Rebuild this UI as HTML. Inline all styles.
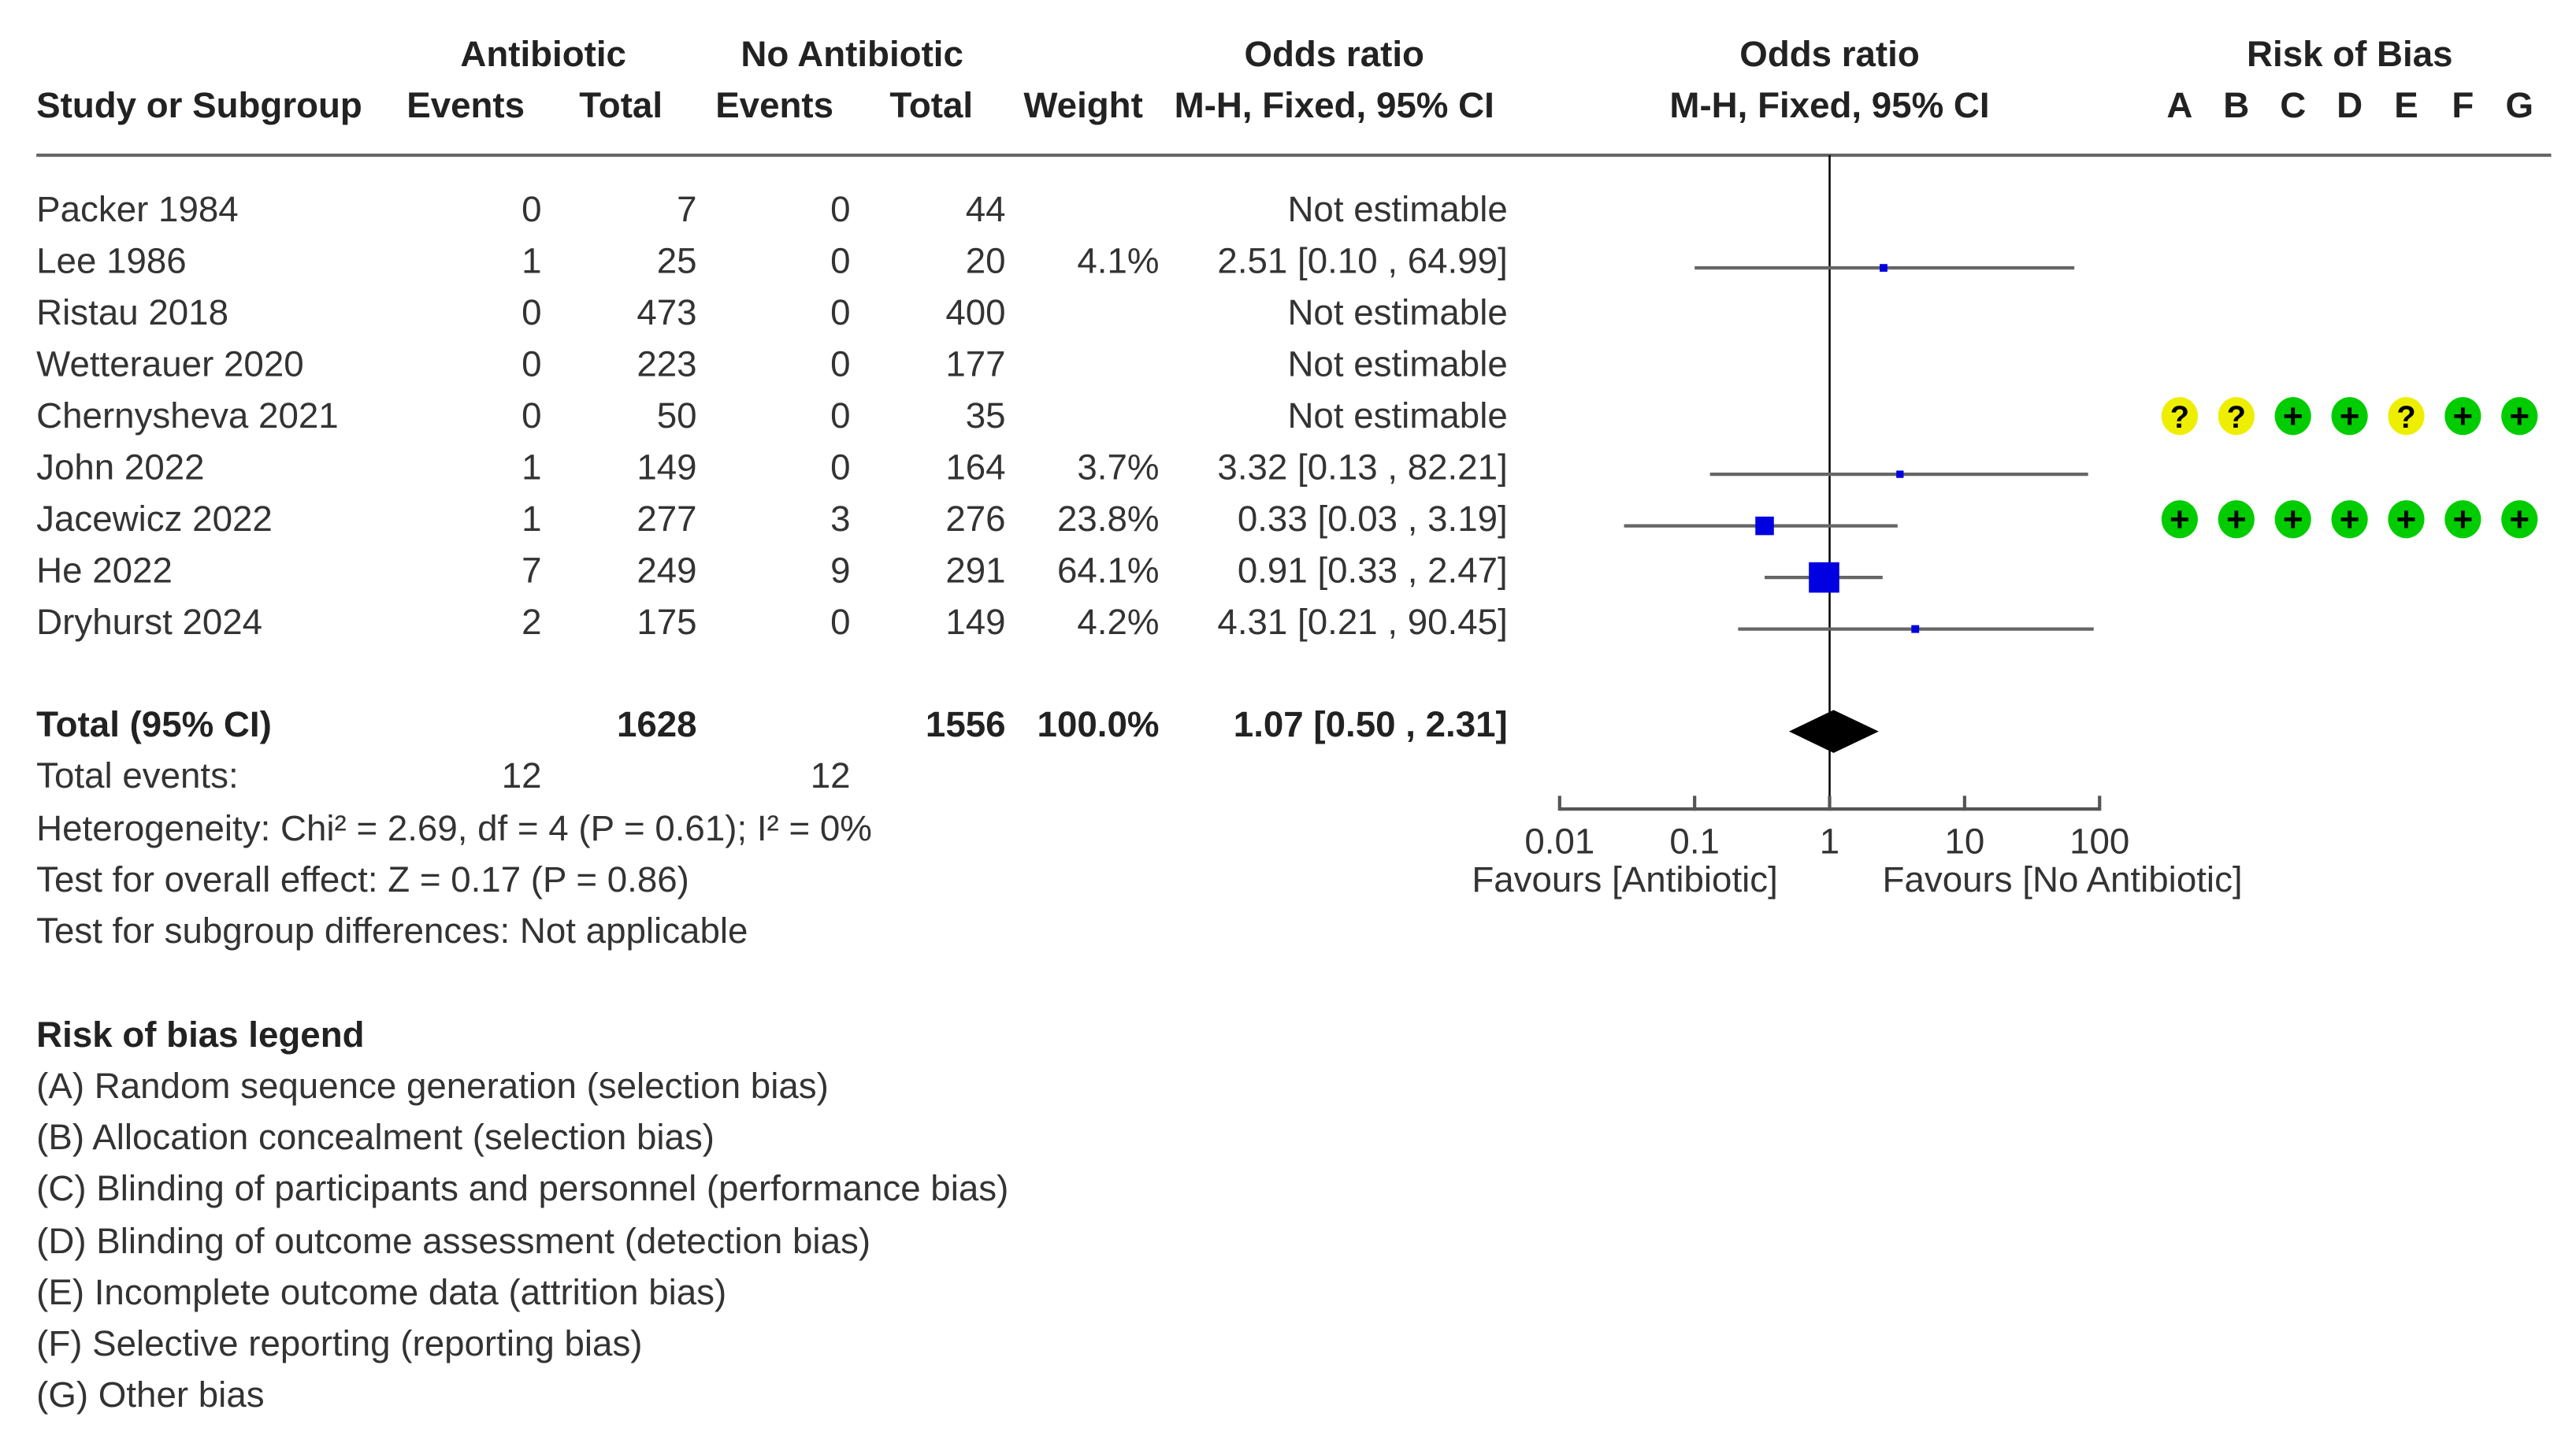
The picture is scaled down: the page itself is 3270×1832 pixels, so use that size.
<!DOCTYPE html>
<html><head><meta charset="utf-8"><style>
html,body{margin:0;padding:0;background:#fff;}
svg{display:block;font-family:"Liberation Sans",Arial,sans-serif;}
.t{font-size:21.8px;fill:#333;}
.b{font-size:21.8px;fill:#222;font-weight:bold;}
</style></head><body>
<svg id="chart" width="3270" height="1832" viewBox="0 0 1560 874" xmlns="http://www.w3.org/2000/svg">
<g>
<text class="b" x="329" y="40" text-anchor="middle">Antibiotic</text>
<text class="b" x="516" y="40" text-anchor="middle">No Antibiotic</text>
<text class="b" x="808" y="40" text-anchor="middle">Odds ratio</text>
<text class="b" x="1108" y="40" text-anchor="middle">Odds ratio</text>
<text class="b" x="1423" y="40" text-anchor="middle">Risk of Bias</text>
<text class="b" x="22" y="71">Study or Subgroup</text>
<text class="b" x="282" y="71" text-anchor="middle">Events</text>
<text class="b" x="376" y="71" text-anchor="middle">Total</text>
<text class="b" x="469" y="71" text-anchor="middle">Events</text>
<text class="b" x="564" y="71" text-anchor="middle">Total</text>
<text class="b" x="656" y="71" text-anchor="middle">Weight</text>
<text class="b" x="808" y="71" text-anchor="middle">M-H, Fixed, 95% CI</text>
<text class="b" x="1108" y="71" text-anchor="middle">M-H, Fixed, 95% CI</text>
</g>
<line x1="22" y1="94" x2="1545" y2="94" stroke="#666" stroke-width="2"/>
<g id="rows"></g>
<g id="plot"></g>
<g id="rob"></g>
<g>
<text class="b" x="22" y="446">Total (95% CI)</text>
<text class="b" x="422" y="446" text-anchor="end">1628</text>
<text class="b" x="609" y="446" text-anchor="end">1556</text>
<text class="b" x="702" y="446" text-anchor="end">100.0%</text>
<text class="b" x="913" y="446" text-anchor="end">1.07 [0.50 , 2.31]</text>
<text class="t" x="22" y="477">Total events:</text>
<text class="t" x="328" y="477" text-anchor="end">12</text>
<text class="t" x="515" y="477" text-anchor="end">12</text>
<text class="t" x="22" y="509">Heterogeneity: Chi² = 2.69, df = 4 (P = 0.61); I² = 0%</text>
<text class="t" x="22" y="540">Test for overall effect: Z = 0.17 (P = 0.86)</text>
<text class="t" x="22" y="571">Test for subgroup differences: Not applicable</text>
<text class="b" x="22" y="634">Risk of bias legend</text>
<text class="t" x="22" y="665">(A) Random sequence generation (selection bias)</text>
<text class="t" x="22" y="696">(B) Allocation concealment (selection bias)</text>
<text class="t" x="22" y="727">(C) Blinding of participants and personnel (performance bias)</text>
<text class="t" x="22" y="759">(D) Blinding of outcome assessment (detection bias)</text>
<text class="t" x="22" y="790">(E) Incomplete outcome data (attrition bias)</text>
<text class="t" x="22" y="821">(F) Selective reporting (reporting bias)</text>
<text class="t" x="22" y="852">(G) Other bias</text>
</g>
<script>
const studies=["Packer 1984","Lee 1986","Ristau 2018","Wetterauer 2020","Chernysheva 2021","John 2022","Jacewicz 2022","He 2022","Dryhurst 2024"];
const abEvents=[0,1,0,0,0,1,1,7,2];
const abTotal=[7,25,473,223,50,149,277,249,175];
const noEvents=[0,0,0,0,0,0,3,9,0];
const noTotal=[44,20,400,177,35,164,276,291,149];
const weights=[null,4.1,null,null,null,3.7,23.8,64.1,4.2];
const orVal=[null,2.51,null,null,null,3.32,0.33,0.91,4.31];
const ciLow=[null,0.10,null,null,null,0.13,0.03,0.33,0.21];
const ciHigh=[null,64.99,null,null,null,82.21,3.19,2.47,90.45];
const totalOR=[1.07,0.50,2.31];
const axisTicks=[0.01,0.1,1,10,100];
const tickLabels=["0.01","0.1","1","10","100"];
const robLetters=["A","B","C","D","E","F","G"];
const robRows=[null,null,null,null,["?","?","+","+","?","+","+"],null,["+","+","+","+","+","+","+"],null,null];

const NS="http://www.w3.org/2000/svg";
const xs=v=>1108+Math.log10(v)*81.75;
const ys=i=>127+i*31.25;
function mk(p,tag,attrs,txt){const e=document.createElementNS(NS,tag);for(const k in attrs)e.setAttribute(k,attrs[k]);if(txt!==undefined)e.textContent=txt;p.appendChild(e);return e;}
const rows=document.getElementById('rows'),plot=document.getElementById('plot'),rob=document.getElementById('rob');
const f=v=>v.toFixed(2);
studies.forEach((s,i)=>{
  const y=ys(i)+7;
  const g=mk(rows,'g',{});
  
  
  const cells=[[22,s,'start'],[328,abEvents[i],'end'],[422,abTotal[i],'end'],[515,noEvents[i],'end'],[609,noTotal[i],'end']];
  if(weights[i]!==null)cells.push([702,weights[i].toFixed(1)+'%','end']);
  cells.push([913,orVal[i]===null?'Not estimable':f(orVal[i])+' ['+f(ciLow[i])+' , '+f(ciHigh[i])+']','end']);
  cells.forEach(c=>{const t=mk(g,'text',{class:'t',x:c[0],y:y,'text-anchor':c[2]},String(c[1]));
    
    });
});
const vline=mk(plot,'line',{x1:xs(1),y1:94,x2:xs(1),y2:490,stroke:'#000','stroke-width':1.2});


const ax=mk(plot,'line',{x1:xs(axisTicks[0]),y1:490,x2:xs(axisTicks[axisTicks.length-1]),y2:490,stroke:'#555','stroke-width':2});


axisTicks.forEach((v,k)=>{
  const tk=mk(plot,'line',{x1:xs(v),y1:482,x2:xs(v),y2:491,stroke:'#555','stroke-width':2});
  
  
  const tl=mk(plot,'text',{class:'t',x:xs(v),y:517,'text-anchor':'middle'},tickLabels[k]);
  
  
});
const fl=mk(plot,'text',{class:'t',x:984,y:540,'text-anchor':'middle'},'Favours [Antibiotic]');


const fr=mk(plot,'text',{class:'t',x:1249,y:540,'text-anchor':'middle'},'Favours [No Antibiotic]');


studies.forEach((s,i)=>{
  if(orVal[i]===null)return;
  const y=ys(i)+4;
  const ln=mk(plot,'line',{x1:xs(ciLow[i]),y1:y,x2:xs(ciHigh[i]),y2:y,stroke:'#666','stroke-width':2});
  
  
  const sz=Math.max(3,Math.sqrt(weights[i])*2.3);
  const sq=mk(plot,'rect',{x:xs(orVal[i])-sz/2,y:y-sz/2,width:sz,height:sz,fill:'#0000e0'});
  
  
});
const dy=443;
const dm=mk(plot,'polygon',{points:`${xs(totalOR[1])},${dy} ${xs(totalOR[0])},${dy-13} ${xs(totalOR[2])},${dy} ${xs(totalOR[0])},${dy+13}`,fill:'#000'});


robLetters.forEach((L,j)=>{
  const x=1320+j*34.3;
  const t=mk(rob,'text',{class:'b',x:x,y:71,'text-anchor':'middle'},L);
  
  
  robRows.forEach((r,i)=>{
    if(!r)return;
    const y=ys(i);
    const c=mk(rob,'ellipse',{cx:x,cy:y,rx:11,ry:11.5,fill:r[j]==='+'?'#00cc00':'#eeee00'});
    
    
    const tt=mk(rob,'text',{x:x,y:y+7,'text-anchor':'middle','font-size':r[j]==='+'?'21':'19','font-weight':'bold',fill:'#000'},r[j]);
    
    
  });
});
</script>
</svg>
</body></html>
